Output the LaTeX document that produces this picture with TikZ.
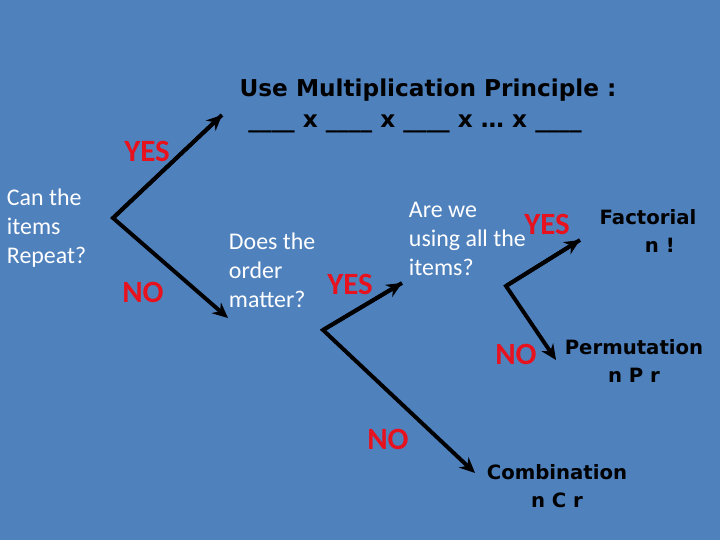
\documentclass[tikz,border=0pt]{standalone}
\usepackage{fontspec}
\setmainfont{Carlito}
\newfontfamily\blackfont{DejaVu Sans}
\usetikzlibrary{arrows.meta}
\definecolor{bgblue}{HTML}{4F81BD}
\definecolor{ansred}{HTML}{E8121E}
\tikzset{
  arr/.style={line width=2.8pt,-{Stealth[length=11pt,width=10pt]}},
  qtext/.style={text=white,font=\fontsize{17}{20.5}\selectfont,align=left},
  answer/.style={text=ansred,font=\bfseries\fontsize{22}{24}\selectfont},
  result/.style={text=black,font=\blackfont\bfseries\fontsize{14}{20}\selectfont,align=center},
}
\begin{document}
\begin{tikzpicture}[x=0.025cm,y=-0.025cm]
  \fill[bgblue] (0,0) rectangle (720,540);
  \useasboundingbox (0,0) rectangle (720,540);
  % first question
  \node[qtext,anchor=west] (repeat) at (2,228) {Can the\\items\\Repeat?};
  \coordinate (v1) at (113,218);
  \coordinate (mult) at (222,115);
  \coordinate (order) at (228,318);
  \draw[arr] (mult) -- (v1) -- (order);
  \draw[arr] (v1) -- (mult);
  \node[answer] (yes1) at (147,151) {YES};
  \node[answer] (no1) at (143,292) {NO};
  \node[text=black,font=\blackfont\bfseries\fontsize{16.5}{20}\selectfont] (title) at (428,90) {Use Multiplication Principle :};
  \node[text=black,font=\blackfont\bfseries\fontsize{16.5}{20}\selectfont] (blanks) at (415,124) {\_\_\_\_ x \_\_\_\_ x \_\_\_\_ x \dots\ x \_\_\_\_};
  % second question
  \node[qtext,anchor=west] (matter) at (224,270) {Does the\\order\\matter?};
  \coordinate (v2) at (323,330);
  \coordinate (allq) at (402,283);
  \coordinate (comb) at (475,473);
  \draw[arr] (allq) -- (v2) -- (comb);
  \draw[arr] (v2) -- (allq);
  \node[answer] (yes2) at (350,284) {YES};
  \node[answer] (no2) at (388,439) {NO};
  % third question
  \node[qtext,anchor=west] (using) at (404,239) {Are we\\using all the\\items?};
  \coordinate (v3) at (506,286);
  \coordinate (fact) at (580,240);
  \coordinate (perm) at (556,360);
  \draw[arr] (fact) -- (v3) -- (perm);
  \draw[arr] (v3) -- (fact);
  \node[answer] (yes3) at (547,224) {YES};
  \node[answer] (no3) at (516,354) {NO};
  % results
  \node[result] (factorial) at (648,231) {Factorial\\\hspace*{1.2em}n !};
  \node[result] (permutation) at (634,361) {Permutation\\n P r};
  \node[result] (combination) at (557,486) {Combination\\n C r};
\end{tikzpicture}
\end{document}
